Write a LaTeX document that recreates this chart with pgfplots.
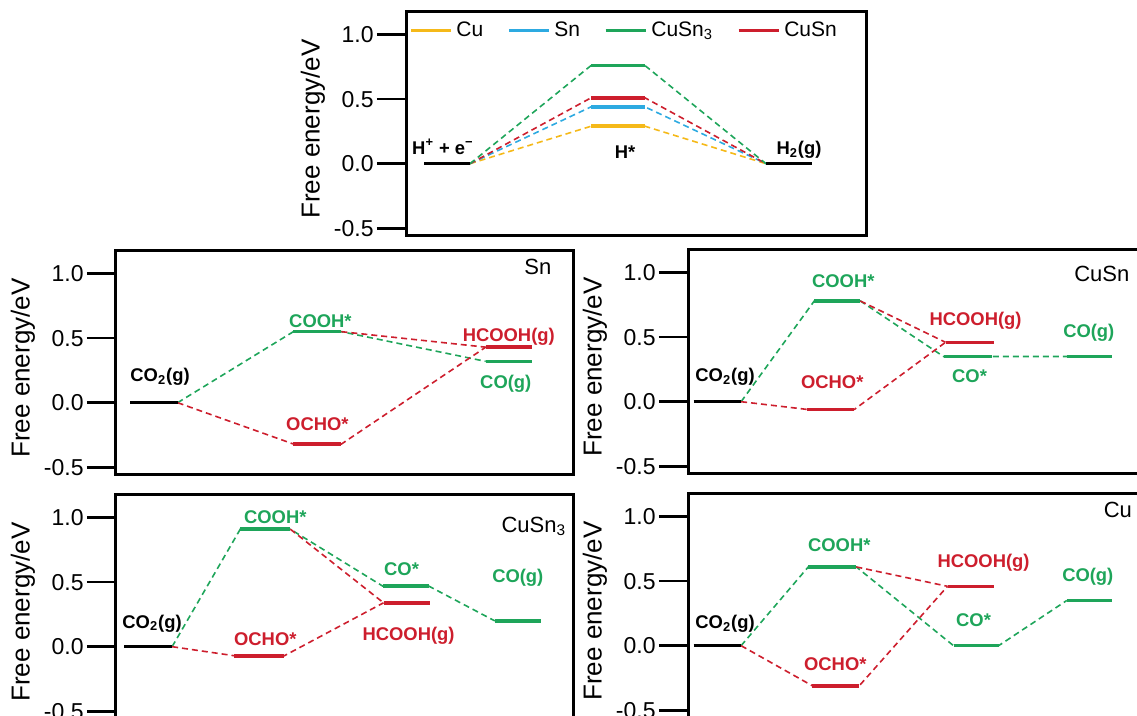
\documentclass[border=0pt]{standalone}
\usepackage{pgfplots}
\pgfplotsset{compat=1.18}
\usepackage{fontspec}
\setmainfont{Liberation Sans}
\definecolor{cgreen}{RGB}{30,165,90}
\definecolor{cred}{RGB}{205,30,45}
\definecolor{cyel}{RGB}{245,185,25}
\definecolor{cblue}{RGB}{45,170,225}
\tikzset{
  lab/.style={font=\bfseries\fontsize{9.2}{11}\selectfont, inner sep=0pt},
  ttl/.style={font=\fontsize{11}{13}\selectfont, inner sep=0pt},
  conn/.style={line width=0.8pt, dash pattern=on 3pt off 2pt},
  lvl/.style={line width=1.8pt},
}
\pgfplotsset{
  panel/.style={
    scale only axis,
    height=112pt,
    ymin=-0.56, ymax=1.175,
    clip=false,
    axis line style={line width=1.5pt},
    xtick=\empty,
    ytick={-0.5,0,0.5,1},
    yticklabels={-0.5,0.0,0.5,1.0},
    ytick pos=left,
    tick align=outside,
    major tick length=14.5pt,
    major tick style={line width=1.3pt, black},
    yticklabel style={font=\fontsize{11.5}{13}\selectfont, inner xsep=1.5pt},
    ylabel={Free energy/eV},
    every axis y label/.style={at={(axis description cs:0,0.5)}, xshift=-46.5pt, yshift=-2.5pt, rotate=90, anchor=center, font=\fontsize{13}{15}\selectfont},
  },
}
\begin{document}
\begin{tikzpicture}
% ---------------- top panel (HER) ----------------
\begin{axis}[panel, at={(203pt,-6pt)}, anchor=north west, width=230pt, xmin=406, xmax=866,
  legend style={at={(axis cs:625,1.03)}, anchor=center, draw=none, fill=none, legend columns=4,
    font=\fontsize{10.5}{12}\selectfont, /tikz/every even column/.append style={column sep=10pt}},
  legend image code/.code={\draw[#1] (0pt,0pt) -- (20pt,0pt);}]
\addlegendimage{cyel, line width=1.6pt}\addlegendentry{Cu}
\addlegendimage{cblue, line width=1.6pt}\addlegendentry{Sn}
\addlegendimage{cgreen, line width=1.6pt}\addlegendentry{CuSn\textsubscript{3}}
\addlegendimage{cred, line width=1.6pt}\addlegendentry{CuSn}
\addplot[conn, mark=none, cyel, forget plot] coordinates {(470,0) (591,0.29) (645,0.29) (766,0)};
\addplot[conn, mark=none, cblue, forget plot] coordinates {(470,0) (591,0.44) (645,0.44) (766,0)};
\addplot[conn, mark=none, cred, forget plot] coordinates {(470,0) (591,0.51) (645,0.51) (766,0)};
\addplot[conn, mark=none, cgreen, forget plot] coordinates {(470,0) (591,0.76) (645,0.76) (766,0)};
\addplot[lvl, mark=none, black, forget plot] coordinates {(424,0) (470,0)};
\addplot[lvl, mark=none, black, forget plot] coordinates {(766,0) (812,0)};
\addplot[lvl, mark=none, cyel, forget plot] coordinates {(591,0.29) (645,0.29)};
\addplot[lvl, mark=none, cblue, forget plot] coordinates {(591,0.44) (645,0.44)};
\addplot[lvl, mark=none, cred, forget plot] coordinates {(591,0.51) (645,0.51)};
\addplot[lvl, mark=none, cgreen, forget plot] coordinates {(591,0.76) (645,0.76)};
\node[lab] at (axis cs:443,0.13) {H\textsuperscript{+} + e\textsuperscript{−}};
\node[lab] at (axis cs:625,0.09) {H*};
\node[lab] at (axis cs:799,0.11) {H\textsubscript{2}(g)};
\end{axis}
% ---------------- Sn ----------------
\begin{axis}[panel, at={(58pt,-125.5pt)}, anchor=north west, width=228.5pt, xmin=116, xmax=573]
\addplot[conn, mark=none, cgreen] coordinates {(177.5,0) (293,0.55) (341,0.55) (485,0.32)};
\addplot[conn, mark=none, cred] coordinates {(177.5,0) (293,-0.32) (341,-0.32) (485,0.43)};
\addplot[conn, mark=none, cred] coordinates {(341,0.55) (485,0.43)};
\addplot[lvl, mark=none, black] coordinates {(130,0) (177.5,0)};
\addplot[lvl, mark=none, cgreen] coordinates {(293,0.55) (341,0.55)};
\addplot[lvl, mark=none, cred] coordinates {(293,-0.32) (341,-0.32)};
\addplot[lvl, mark=none, cred] coordinates {(485,0.43) (531,0.43)};
\addplot[lvl, mark=none, cgreen] coordinates {(485,0.32) (531,0.32)};
\node[lab] at (axis cs:160,0.20) {CO\textsubscript{2}(g)};
\node[lab, text=cgreen] at (axis cs:320,0.63) {COOH*};
\node[lab, text=cred] at (axis cs:317,-0.17) {OCHO*};
\node[lab, text=cred] at (axis cs:508,0.51) {HCOOH(g)};
\node[lab, text=cgreen] at (axis cs:505,0.15) {CO(g)};
\node[ttl] at (axis cs:537,1.05) {Sn};
\end{axis}
% ---------------- CuSn ----------------
\begin{axis}[panel, at={(344pt,-125pt)}, anchor=north west, width=228.5pt, xmin=688, xmax=1145]
\addplot[conn, mark=none, cgreen] coordinates {(741,0) (814,0.78) (860,0.78) (943,0.35) (991,0.35) (1066,0.35)};
\addplot[conn, mark=none, cred] coordinates {(741,0) (807,-0.06) (854,-0.06) (945,0.46)};
\addplot[conn, mark=none, cred] coordinates {(860,0.78) (945,0.46)};
\addplot[lvl, mark=none, black] coordinates {(693.5,0) (741,0)};
\addplot[lvl, mark=none, cgreen] coordinates {(814,0.78) (860,0.78)};
\addplot[lvl, mark=none, cred] coordinates {(807,-0.06) (854,-0.06)};
\addplot[lvl, mark=none, cred] coordinates {(945,0.46) (993,0.46)};
\addplot[lvl, mark=none, cgreen] coordinates {(943,0.35) (991,0.35)};
\addplot[lvl, mark=none, cgreen] coordinates {(1066,0.35) (1111,0.35)};
\node[lab] at (axis cs:725,0.19) {CO\textsubscript{2}(g)};
\node[lab, text=cgreen] at (axis cs:843,0.93) {COOH*};
\node[lab, text=cred] at (axis cs:832,0.15) {OCHO*};
\node[lab, text=cred] at (axis cs:975,0.63) {HCOOH(g)};
\node[lab, text=cgreen] at (axis cs:969,0.20) {CO*};
\node[lab, text=cgreen] at (axis cs:1088,0.53) {CO(g)};
\node[ttl] at (axis cs:1101,0.99) {CuSn};
\end{axis}
% ---------------- CuSn3 ----------------
\begin{axis}[panel, at={(58pt,-247.5pt)}, anchor=north west, width=228.5pt, xmin=116, xmax=573]
\addplot[conn, mark=none, cgreen] coordinates {(172,0) (240,0.91) (290,0.91) (382,0.47) (428,0.47) (494,0.20)};
\addplot[conn, mark=none, cred] coordinates {(172,0) (234,-0.07) (284,-0.07) (383,0.34)};
\addplot[conn, mark=none, cred] coordinates {(290,0.91) (383,0.34)};
\addplot[lvl, mark=none, black] coordinates {(124,0) (172,0)};
\addplot[lvl, mark=none, cgreen] coordinates {(240,0.91) (290,0.91)};
\addplot[lvl, mark=none, cred] coordinates {(234,-0.07) (284,-0.07)};
\addplot[lvl, mark=none, cgreen] coordinates {(382,0.47) (428,0.47)};
\addplot[lvl, mark=none, cred] coordinates {(383,0.34) (429,0.34)};
\addplot[lvl, mark=none, cgreen] coordinates {(494,0.20) (540,0.20)};
\node[lab] at (axis cs:152,0.18) {CO\textsubscript{2}(g)};
\node[lab, text=cgreen] at (axis cs:275,1.00) {COOH*};
\node[lab, text=cred] at (axis cs:265,0.06) {OCHO*};
\node[lab, text=cgreen] at (axis cs:401,0.60) {CO*};
\node[lab, text=cred] at (axis cs:408,0.085) {HCOOH(g)};
\node[lab, text=cgreen] at (axis cs:517,0.53) {CO(g)};
\node[ttl] at (axis cs:533,0.93) {CuSn\textsubscript{3}};
\end{axis}
% ---------------- Cu ----------------
\begin{axis}[panel, at={(344pt,-247pt)}, anchor=north west, width=228.5pt, xmin=688, xmax=1145]
\addplot[conn, mark=none, cgreen] coordinates {(741,0) (808,0.61) (856,0.61) (953,0) (998,0) (1066,0.35)};
\addplot[conn, mark=none, cred] coordinates {(741,0) (812,-0.31) (859,-0.31) (947,0.46)};
\addplot[conn, mark=none, cred] coordinates {(856,0.61) (947,0.46)};
\addplot[lvl, mark=none, black] coordinates {(693.5,0) (741,0)};
\addplot[lvl, mark=none, cgreen] coordinates {(808,0.61) (856,0.61)};
\addplot[lvl, mark=none, cred] coordinates {(812,-0.31) (859,-0.31)};
\addplot[lvl, mark=none, cred] coordinates {(947,0.46) (993,0.46)};
\addplot[lvl, mark=none, cgreen] coordinates {(953,0) (998,0)};
\addplot[lvl, mark=none, cgreen] coordinates {(1066,0.35) (1111,0.35)};
\node[lab] at (axis cs:725,0.17) {CO\textsubscript{2}(g)};
\node[lab, text=cgreen] at (axis cs:839,0.78) {COOH*};
\node[lab, text=cred] at (axis cs:835,-0.14) {OCHO*};
\node[lab, text=cred] at (axis cs:983,0.64) {HCOOH(g)};
\node[lab, text=cgreen] at (axis cs:973,0.20) {CO*};
\node[lab, text=cgreen] at (axis cs:1087,0.53) {CO(g)};
\node[ttl] at (axis cs:1117,1.05) {Cu};
\end{axis}
\pgfresetboundingbox
\clip (0pt,0pt) rectangle (568.5pt,-358pt);
\useasboundingbox (0pt,0pt) rectangle (568.5pt,-358pt);
\end{tikzpicture}
\end{document}
